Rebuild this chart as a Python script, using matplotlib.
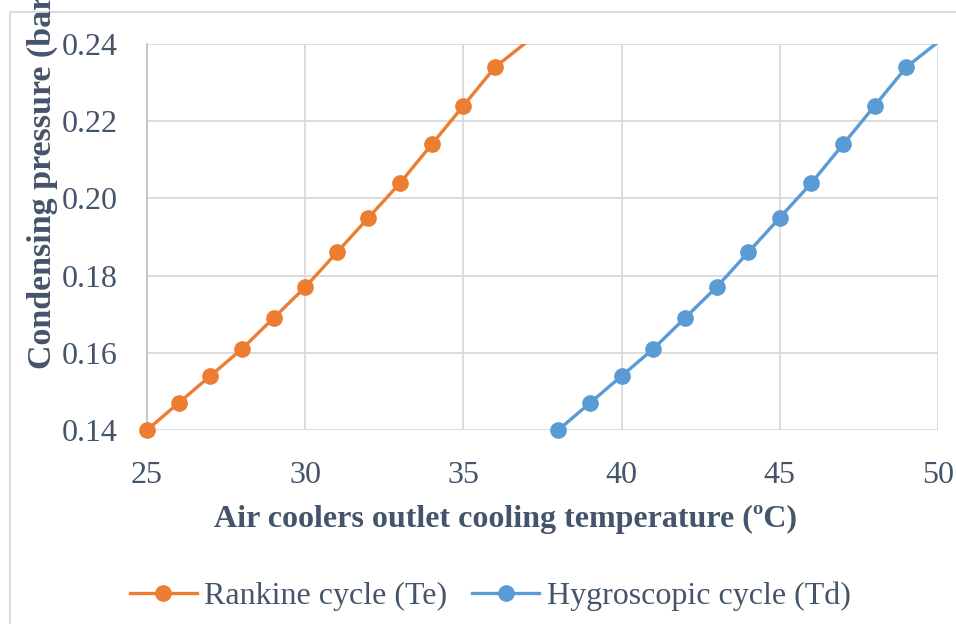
import matplotlib.pyplot as plt
from matplotlib.lines import Line2D

plt.rcParams['font.family'] = ['Liberation Serif', 'DejaVu Serif']

# Data
rankine_t = [25, 26, 27, 28, 29, 30, 31, 32, 33, 34, 35, 36, 37]
hygro_t = [38, 39, 40, 41, 42, 43, 44, 45, 46, 47, 48, 49, 50]
pressure = [0.140, 0.147, 0.154, 0.161, 0.169, 0.177, 0.186, 0.195,
            0.204, 0.214, 0.224, 0.234, 0.2405]
x_ticks = [25, 30, 35, 40, 45, 50]
y_ticks = [0.14, 0.16, 0.18, 0.20, 0.22, 0.24]

txt = '#44546A'
orange = '#ED7D31'
blue = '#5B9BD5'
grid = '#D9D9D9'
fs = 23

W, H = 956, 624
fig = plt.figure(figsize=(W / 100, H / 100), dpi=100)
ax = fig.add_axes([147 / W, 1 - 430 / H, (938 - 147) / W, (430 - 44) / H])

# lines are clipped to the plot area, markers are not (last point is off-scale)
for xs, col, lab in [(rankine_t, orange, 'Rankine cycle (Te)'),
                     (hygro_t, blue, 'Hygroscopic cycle (Td)')]:
    ax.plot(xs, pressure, '-', color=col, lw=2.4, zorder=3)
    ax.plot(xs[:-1], pressure[:-1], 'o', color=col, ms=11, clip_on=False, zorder=4)

ax.set_xlim(25, 50)
ax.set_ylim(0.14, 0.24)
ax.set_xticks(x_ticks)
ax.set_yticks(y_ticks)
ax.set_yticklabels(['%.2f' % v for v in y_ticks])
ax.tick_params(length=0, labelsize=fs, labelcolor=txt)
ax.tick_params(axis='x', pad=22)
ax.tick_params(axis='y', pad=21)
ax.grid(True, color=grid, lw=1.3)
ax.set_axisbelow(True)
for s in ['top', 'right', 'bottom']:
    ax.spines[s].set_visible(False)
ax.spines['left'].set_color('#BFC4CC')
ax.spines['left'].set_linewidth(1.3)

fig.text(505 / W, 1 - 519 / H, 'Air coolers outlet cooling temperature (ºC)',
         ha='center', va='center', fontsize=fs, fontweight='bold', color=txt)
fig.text(42 / W, 1 - 369 / H, 'Condensing pressure (bar)', rotation=90,
         ha='center', va='bottom', fontsize=24.5, fontweight='bold', color=txt)

handles = [Line2D([], [], color=orange, lw=2.4, marker='o', ms=11),
           Line2D([], [], color=blue, lw=2.4, marker='o', ms=11)]
fig.legend(handles, ['Rankine cycle (Te)', 'Hygroscopic cycle (Td)'],
           loc='center', bbox_to_anchor=(490 / W, 1 - 596 / H), ncol=2,
           frameon=False, fontsize=fs, labelcolor=txt, handlelength=2.1,
           handletextpad=0.22, columnspacing=0.8, numpoints=1)

# chart frame: only left and top edges are visible in the reference
fig.add_artist(Line2D([10 / W, 10 / W], [0, 1 - 12 / H], transform=fig.transFigure,
                      color='#D9DDE3', lw=1.5))
fig.add_artist(Line2D([10 / W, 1], [1 - 12 / H, 1 - 12 / H], transform=fig.transFigure,
                      color='#D9DDE3', lw=1.5))

fig.savefig('out.png', dpi=100)
